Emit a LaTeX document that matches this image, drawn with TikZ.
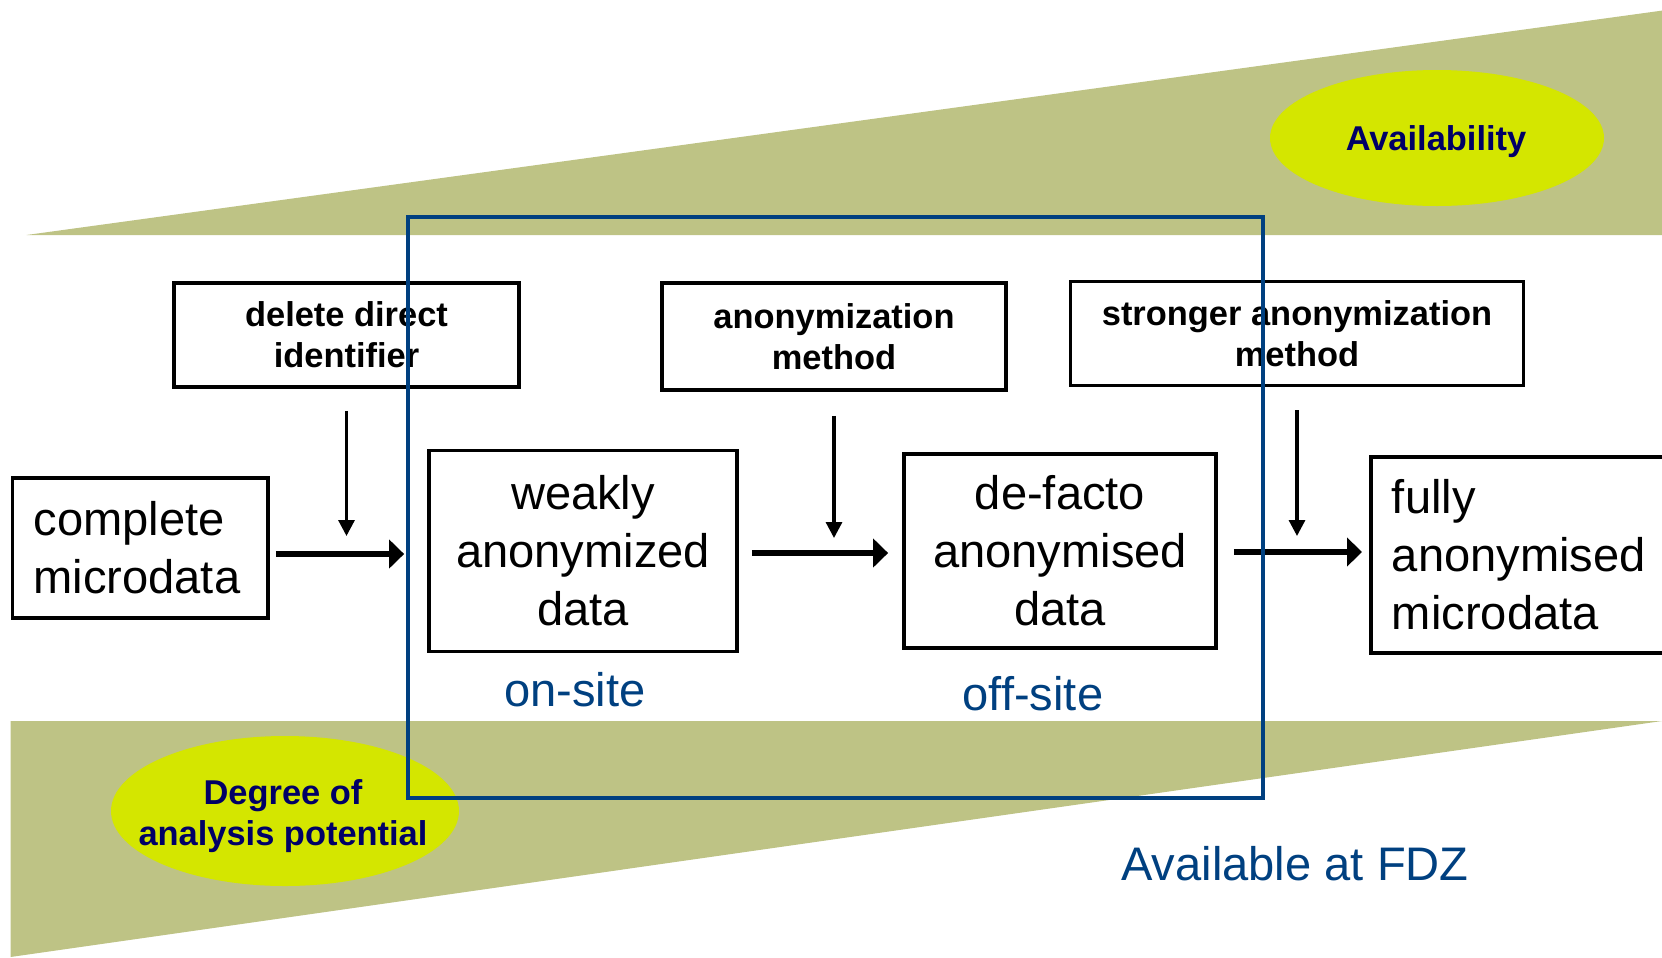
\documentclass[tikz,border=0pt]{standalone}
\usepackage{fontspec}
\setmainfont{Liberation Sans}
\usepackage{tikz}
\usetikzlibrary{arrows.meta}

\definecolor{wedgegreen}{RGB}{190,195,133}
\definecolor{limeblob}{RGB}{212,230,0}
\definecolor{fdzblue}{RGB}{0,64,128}
\definecolor{blobtext}{RGB}{0,0,102}

\newcommand{\bigtxt}{\fontsize{26.8pt}{33pt}\selectfont}
\newcommand{\smalltxt}{\fontsize{19.6pt}{23.5pt}\selectfont\bfseries}

\begin{document}
\begin{tikzpicture}[x=0.02cm,y=-0.02cm,
  databox/.style={draw,line width=2.2pt,inner sep=0pt,align=center,font=\bigtxt},
  stepbox/.style={draw,line width=2.2pt,inner sep=0pt,align=center,font=\smalltxt},
  blob/.style={inner sep=0pt,align=center,font=\smalltxt,text=blobtext},
  flow/.style={-{Triangle[length=8.5pt,width=16pt]},line width=3.2pt},
  feed/.style={-{Triangle[length=9pt,width=9pt]},line width=1.8pt},
  sitelabel/.style={text=fdzblue,font=\bigtxt}]
   \clip (0,0) rectangle (1662,957);
   % wedges
   \fill[wedgegreen] (26.5,235) -- (1662,10.6) -- (1662,235) -- cycle;
   \fill[wedgegreen] (10.6,721) -- (1662,721) -- (10.6,957) -- cycle;
   \coordinate (availC) at (1437,138);
   \coordinate (degreeC) at (285,811);
   \fill[limeblob] (availC) ellipse [x radius=167, y radius=68];
   \fill[limeblob] (degreeC) ellipse [x radius=174, y radius=75];
   \node[blob] (avail) at (1436,142) {Availability};
   \node[blob] (degree) at (283,816) {Degree of\\analysis potential};

   % steps
   \draw (346.5,335) node[stepbox,minimum width=6.9cm,minimum height=2.08cm] (del) {delete direct\\identifier};
   \draw (834,336.5) node[stepbox,minimum width=6.88cm,minimum height=2.14cm] (anon) {anonymization\\method};
   \draw (1297,333.5) node[stepbox,minimum width=9.06cm,minimum height=2.08cm] (strong) {stronger anonymization\\method};

   % data
   \draw (10.6,548) node[databox,anchor=west,align=left,text width=4.27cm,inner xsep=0.42cm,minimum height=2.8cm] (cm) {complete\\microdata};
   \draw (583,551) node[databox,minimum width=6.16cm,minimum height=4.02cm] (weak) {weakly\\anonymized\\data};
   \draw (1060,551) node[databox,minimum width=6.24cm,minimum height=3.88cm] (defacto) {de-facto\\anonymised\\data};
   \draw (1369,555) node[databox,anchor=west,align=left,text width=6cm,inner xsep=0.42cm,minimum height=3.92cm] (fully) {fully\\anonymised\\microdata};

   \coordinate (m1) at (346.5,554);
   \coordinate (m2) at (834,553);
   \coordinate (m3) at (1297,552);

   \path[feed] (del) edge[shorten <=0.44cm, shorten >=0.36cm] (m1);
   \path[feed] (anon) edge[shorten <=0.48cm, shorten >=0.3cm] (m2);
   \path[feed] (strong) edge[shorten <=0.46cm, shorten >=0.32cm] (m3);
   \path[flow] (cm.east |- m1) edge[shorten <=0.12cm, shorten >=0.46cm] (weak.west |- m1);
   \path[flow] (weak.east |- m2) edge[shorten <=0.26cm, shorten >=0.28cm] (defacto.west |- m2);
   \path[flow] (defacto.east |- m3) edge[shorten <=0.32cm, shorten >=0.14cm] (fully.west |- m3);

   \node[sitelabel] (onsite) at (575,690) {on-site};
   \node[sitelabel] (offsite) at (1033,694) {off-site};
   \node[sitelabel] (fdz) at (1295,864) {Available at FDZ};

   % FDZ frame
   \coordinate (fdzNW) at (408,217);
   \coordinate (fdzSE) at (1263,798);
   \draw[fdzblue,line width=2.8pt] (fdzNW) rectangle (fdzSE);
\end{tikzpicture}
\end{document}
